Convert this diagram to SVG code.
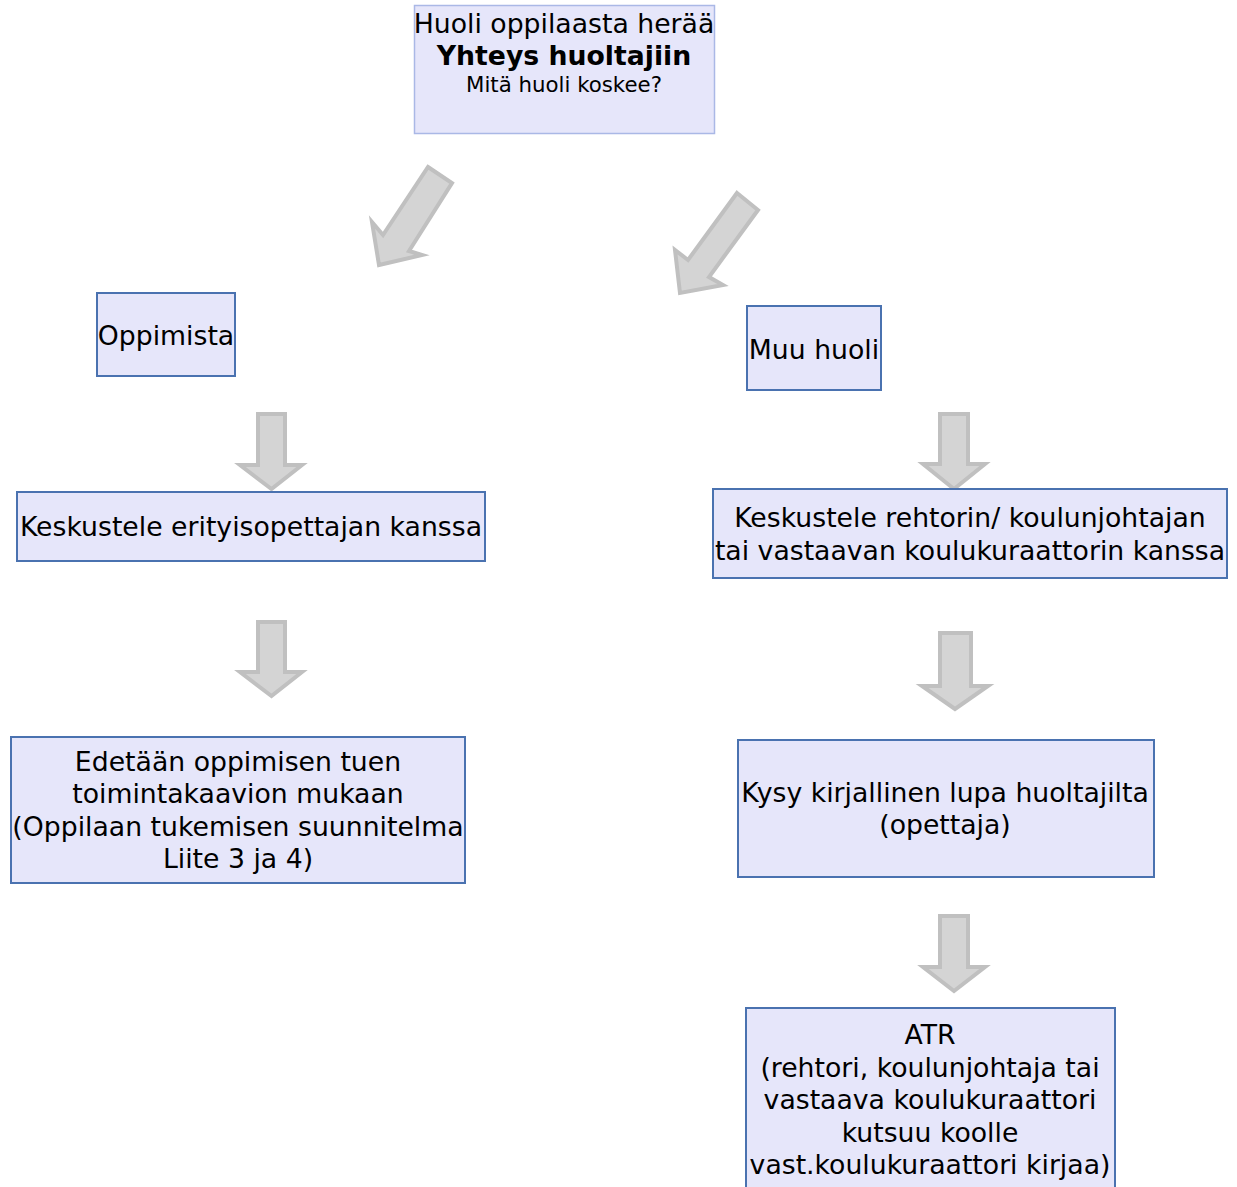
<svg xmlns="http://www.w3.org/2000/svg" width="1237" height="1187" viewBox="0 0 1237 1187">
<style>
.box{fill:#e6e6fa;stroke:#4a72b0;stroke-width:2}
.top{fill:#e6e6fa;stroke:#aab8e6;stroke-width:1.5}
.t{font-family:"DejaVu Sans",Verdana,sans-serif;font-size:26.7px;fill:#000;text-anchor:middle}
.s{font-size:21.3px}
.b{font-weight:bold}
.arr{fill:#d4d4d4;stroke:#c0c0c0;stroke-width:4;stroke-linejoin:miter}
</style>
<rect width="1237" height="1187" fill="#fff"/>
<g id="connectors">
<polygon class="arr" points="428,167 452,183 409,251 422,255 379,265 372,222 383,235"/>
<polygon class="arr" points="737,193 758,210 709,277 723,285 680,293 675,250 688,260"/>
<polygon class="arr" points="258,414 285,414 285,465 302,465 271.5,489 240,465 258,465"/>
<polygon class="arr" points="258,622 285,622 285,672 302,672 271.5,696 240,672 258,672"/>
<polygon class="arr" points="940,414 968,414 968,464 985,464 954,489 923,464 940,464"/>
<polygon class="arr" points="940,633 971,633 971,686 988,686 955,709 922,686 940,686"/>
<polygon class="arr" points="940,916 968,916 968,967 985,967 954,991 923,967 940,967"/>
</g>
<g id="n1">
<rect class="top" x="414.5" y="5.5" width="300" height="128"/>
<text class="t" x="564" y="33">Huoli oppilaasta herää</text>
<text class="t b" x="564" y="65">Yhteys huoltajiin</text>
<text class="t s" x="564" y="92">Mitä huoli koskee?</text>
</g>
<g id="n2">
<rect class="box" x="97" y="293" width="138" height="83"/>
<text class="t" x="166" y="345">Oppimista</text>
</g>
<g id="n3">
<rect class="box" x="747" y="306" width="134" height="84"/>
<text class="t" x="814" y="359">Muu huoli</text>
</g>
<g id="n4">
<rect class="box" x="17" y="492" width="468" height="69"/>
<text class="t" x="251" y="536">Keskustele erityisopettajan kanssa</text>
</g>
<g id="n5">
<rect class="box" x="713" y="489" width="514" height="89"/>
<text class="t" x="970" y="527">Keskustele rehtorin/ koulunjohtajan</text>
<text class="t" x="970" y="560">tai vastaavan koulukuraattorin kanssa</text>
</g>
<g id="n6">
<rect class="box" x="11" y="737" width="454" height="146"/>
<text class="t" x="238" y="771">Edetään oppimisen tuen</text>
<text class="t" x="238" y="803">toimintakaavion mukaan</text>
<text class="t" x="238" y="836">(Oppilaan tukemisen suunnitelma</text>
<text class="t" x="238" y="868">Liite 3 ja 4)</text>
</g>
<g id="n7">
<rect class="box" x="738" y="740" width="416" height="137"/>
<text class="t" x="945" y="802">Kysy kirjallinen lupa huoltajilta</text>
<text class="t" x="945" y="834">(opettaja)</text>
</g>
<g id="n8">
<rect class="box" x="746" y="1008" width="369" height="190"/>
<text class="t" x="930" y="1044">ATR</text>
<text class="t" x="930" y="1077">(rehtori, koulunjohtaja tai</text>
<text class="t" x="930" y="1109">vastaava koulukuraattori</text>
<text class="t" x="930" y="1142">kutsuu koolle</text>
<text class="t" x="930" y="1174">vast.koulukuraattori kirjaa)</text>
</g>
</svg>
